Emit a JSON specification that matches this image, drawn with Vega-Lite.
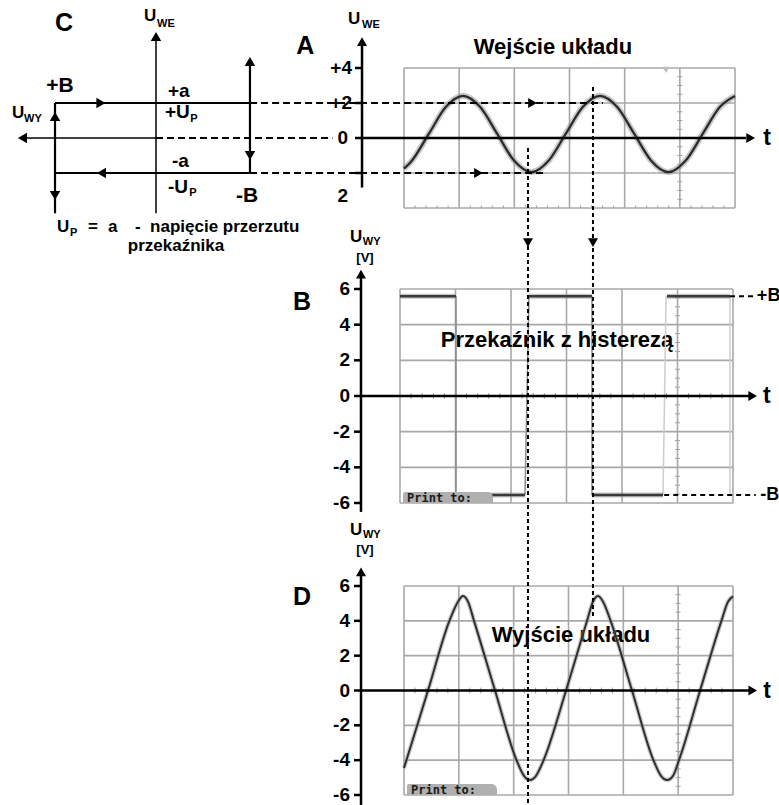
{
"$schema": "https://vega.github.io/schema/vega-lite/v6.json",
"width": 779, "height": 805, "autosize": "none", "padding": 0, "background": "white",
"config": {"view": {"stroke": null}, "text": {"font": "Liberation Sans", "fontWeight": "bold", "color": "black"}},
"datasets": {
"cAxis": [{"x":0,"y":-4.3,"x2":0,"y2":5.6},{"x":0,"y":0,"x2":7.3,"y2":0}],
"cDash": [{"x":0,"y":0,"x2":-9.8,"y2":0}],
"cLoop": [{"x":5.61,"y":2,"x2":-5.22,"y2":2},{"x":-5.22,"y":4.4,"x2":-5.22,"y2":-2},{"x":-5.22,"y":-2,"x2":5.61,"y2":-2},{"x":5.61,"y":2,"x2":5.61,"y2":-4.3}],
"cUp": [{"x":0,"y":5.8},{"x":-5.22,"y":4.37},{"x":5.61,"y":1.23}],
"cDown": [{"x":-5.22,"y":-1.0},{"x":5.61,"y":-3.29}],
"cLeft": [{"x":7.42,"y":0},{"x":3.03,"y":-2}],
"cRight": [{"x":3.06,"y":2}],
"cBig": [{"x":5.11,"y":6.57,"label":"C"}],
"cPM": [{"x":6.1,"y":2.63,"label":"+B"},{"x":-4.45,"y":-3.66,"label":"-B"}],
"cMid": [{"x":-0.667,"y":2.34,"label":"+a"},{"x":-0.889,"y":-1.657,"label":"-a"},{"x":-0.5,"y":1.14,"label":"+U"},{"x":-0.667,"y":-3.14,"label":"-U"}],
"cU": [{"x":0.667,"y":6.7,"label":"U"},{"x":8.0,"y":1.14,"label":"U"}],
"cSub": [{"x":-0.056,"y":6.34,"label":"WE"},{"x":7.33,"y":0.914,"label":"WY"},{"x":-1.9,"y":0.914,"label":"P"},{"x":-1.85,"y":-3.31,"label":"P"},{"x":4.78,"y":-5.6,"label":"P"}],
"cBottom": [{"x":5.5,"y":-5.37,"label":"U"},{"x":3.78,"y":-5.37,"label":"="},{"x":2.67,"y":-5.37,"label":"a"},{"x":1.17,"y":-5.37,"label":"-"},{"x":0.33,"y":-5.37,"label":"napięcie przerzutu"}],
"cBottom2": [{"x":-1.11,"y":-6.46,"label":"przekaźnika"}],
"grid4": [{"t":0,"u":-4,"t2":0,"u2":4},{"t":1,"u":-4,"t2":1,"u2":4},{"t":2,"u":-4,"t2":2,"u2":4},{"t":3,"u":-4,"t2":3,"u2":4},{"t":4,"u":-4,"t2":4,"u2":4},{"t":5,"u":-4,"t2":5,"u2":4},{"t":6,"u":-4,"t2":6,"u2":4},{"t":0,"u":-4,"t2":6,"u2":-4},{"t":0,"u":-2,"t2":6,"u2":-2},{"t":0,"u":2,"t2":6,"u2":2},{"t":0,"u":4,"t2":6,"u2":4}],
"grid6": [{"t":0,"u":-6,"t2":0,"u2":6},{"t":1,"u":-6,"t2":1,"u2":6},{"t":2,"u":-6,"t2":2,"u2":6},{"t":3,"u":-6,"t2":3,"u2":6},{"t":4,"u":-6,"t2":4,"u2":6},{"t":5,"u":-6,"t2":5,"u2":6},{"t":6,"u":-6,"t2":6,"u2":6},{"t":0,"u":-6,"t2":6,"u2":-6},{"t":0,"u":-4,"t2":6,"u2":-4},{"t":0,"u":-2,"t2":6,"u2":-2},{"t":0,"u":2,"t2":6,"u2":2},{"t":0,"u":4,"t2":6,"u2":4},{"t":0,"u":6,"t2":6,"u2":6}],
"minorT": [{"t":0.2,"lo":-0.17,"hi":0.17,"b1":-4,"b2":-3.85},{"t":0.4,"lo":-0.17,"hi":0.17,"b1":-4,"b2":-3.85},{"t":0.6,"lo":-0.17,"hi":0.17,"b1":-4,"b2":-3.85},{"t":0.8,"lo":-0.17,"hi":0.17,"b1":-4,"b2":-3.85},{"t":1.2,"lo":-0.17,"hi":0.17,"b1":-4,"b2":-3.85},{"t":1.4,"lo":-0.17,"hi":0.17,"b1":-4,"b2":-3.85},{"t":1.6,"lo":-0.17,"hi":0.17,"b1":-4,"b2":-3.85},{"t":1.8,"lo":-0.17,"hi":0.17,"b1":-4,"b2":-3.85},{"t":2.2,"lo":-0.17,"hi":0.17,"b1":-4,"b2":-3.85},{"t":2.4,"lo":-0.17,"hi":0.17,"b1":-4,"b2":-3.85},{"t":2.6,"lo":-0.17,"hi":0.17,"b1":-4,"b2":-3.85},{"t":2.8,"lo":-0.17,"hi":0.17,"b1":-4,"b2":-3.85},{"t":3.2,"lo":-0.17,"hi":0.17,"b1":-4,"b2":-3.85},{"t":3.4,"lo":-0.17,"hi":0.17,"b1":-4,"b2":-3.85},{"t":3.6,"lo":-0.17,"hi":0.17,"b1":-4,"b2":-3.85},{"t":3.8,"lo":-0.17,"hi":0.17,"b1":-4,"b2":-3.85},{"t":4.2,"lo":-0.17,"hi":0.17,"b1":-4,"b2":-3.85},{"t":4.4,"lo":-0.17,"hi":0.17,"b1":-4,"b2":-3.85},{"t":4.6,"lo":-0.17,"hi":0.17,"b1":-4,"b2":-3.85},{"t":4.8,"lo":-0.17,"hi":0.17,"b1":-4,"b2":-3.85},{"t":5.2,"lo":-0.17,"hi":0.17,"b1":-4,"b2":-3.85},{"t":5.4,"lo":-0.17,"hi":0.17,"b1":-4,"b2":-3.85},{"t":5.6,"lo":-0.17,"hi":0.17,"b1":-4,"b2":-3.85},{"t":5.8,"lo":-0.17,"hi":0.17,"b1":-4,"b2":-3.85}],
"minorU6": [{"u":-5.5,"t1":4.955,"t2":5.045},{"u":-5,"t1":4.955,"t2":5.045},{"u":-4.5,"t1":4.955,"t2":5.045},{"u":-3.5,"t1":4.955,"t2":5.045},{"u":-3,"t1":4.955,"t2":5.045},{"u":-2.5,"t1":4.955,"t2":5.045},{"u":-1.5,"t1":4.955,"t2":5.045},{"u":-1,"t1":4.955,"t2":5.045},{"u":-0.5,"t1":4.955,"t2":5.045},{"u":0.5,"t1":4.955,"t2":5.045},{"u":1,"t1":4.955,"t2":5.045},{"u":1.5,"t1":4.955,"t2":5.045},{"u":2.5,"t1":4.955,"t2":5.045},{"u":3,"t1":4.955,"t2":5.045},{"u":3.5,"t1":4.955,"t2":5.045},{"u":4.5,"t1":4.955,"t2":5.045},{"u":5,"t1":4.955,"t2":5.045},{"u":5.5,"t1":4.955,"t2":5.045}],
"minorU4": [{"u":-3.5,"t1":4.955,"t2":5.045},{"u":-3,"t1":4.955,"t2":5.045},{"u":-2.5,"t1":4.955,"t2":5.045},{"u":-1.5,"t1":4.955,"t2":5.045},{"u":-1,"t1":4.955,"t2":5.045},{"u":-0.5,"t1":4.955,"t2":5.045},{"u":0.5,"t1":4.955,"t2":5.045},{"u":1,"t1":4.955,"t2":5.045},{"u":1.5,"t1":4.955,"t2":5.045},{"u":2.5,"t1":4.955,"t2":5.045},{"u":3,"t1":4.955,"t2":5.045},{"u":3.5,"t1":4.955,"t2":5.045}],
"aWave": [{"t":0,"u":-1.75},{"t":0.127,"u":-1.36},{"t":0.449,"u":0.23},{"t":0.761,"u":1.78},{"t":1.069,"u":2.41},{"t":1.378,"u":1.78},{"t":1.686,"u":0.26},{"t":1.994,"u":-1.29},{"t":2.311,"u":-1.95},{"t":2.628,"u":-1.27},{"t":2.936,"u":0.26},{"t":3.244,"u":1.78},{"t":3.553,"u":2.41},{"t":3.861,"u":1.78},{"t":4.169,"u":0.26},{"t":4.477,"u":-1.28},{"t":4.794,"u":-1.95},{"t":5.111,"u":-1.27},{"t":5.419,"u":0.26},{"t":5.728,"u":1.78},{"t":6.0,"u":2.4}],
"aAxis": [{"t":-0.761,"u":-2.83,"t2":-0.761,"u2":5.4},{"t":-0.761,"u":0,"t2":6.2,"u2":0},{"t":-0.888,"u":4,"t2":-0.761,"u2":4},{"t":-0.888,"u":2,"t2":-0.761,"u2":2},{"t":-0.888,"u":0,"t2":-0.761,"u2":0},{"t":-0.888,"u":-2,"t2":-0.761,"u2":-2}],
"aUp": [{"t":-0.761,"u":5.51}],
"aRight": [{"t":6.284,"u":0}],
"aDashArrows": [{"t":2.33,"u":2},{"t":1.35,"u":-2}],
"aDash": [{"t":-2.79,"u":2,"t2":3.607,"u2":2},{"t":-2.79,"u":-2,"t2":2.556,"u2":-2}],
"aTrig": [{"t":4.75,"u":3.89}],
"aTickLab": [{"t":-0.943,"u":4,"label":"+4"},{"t":-0.943,"u":2,"label":"+2"},{"t":-1.015,"u":0,"label":"0"},{"t":-1.015,"u":-3.29,"label":"2"}],
"aBig": [{"t":-1.79,"u":5.26,"label":"A"}],
"aTitle": [{"t":2.7,"u":5.2,"label":"Wejście układu"}],
"aT": [{"t":6.58,"u":0,"label":"t"}],
"aU": [{"t":-1.015,"u":6.51,"label":"U"}],
"aSub": [{"t":-0.76,"u":6.31,"label":"WE"}],
"bLevels": [{"t":0,"u":5.6,"t2":1.009,"u2":5.6},{"t":2.324,"u":5.6,"t2":3.459,"u2":5.6},{"t":4.811,"u":5.6,"t2":5.946,"u2":5.6},{"t":1.009,"u":-5.55,"t2":2.252,"u2":-5.55},{"t":3.459,"u":-5.55,"t2":4.739,"u2":-5.55}],
"bEdgeDark": [{"t":1.009,"u":5.6,"t2":1.009,"u2":-5.55},{"t":2.252,"u":-5.55,"t2":2.324,"u2":5.6},{"t":3.459,"u":5.6,"t2":3.459,"u2":-5.55}],
"bEdgeLight": [{"t":4.739,"u":-5.55,"t2":4.795,"u2":5.6},{"t":5.946,"u":5.6,"t2":5.946,"u2":-5.5}],
"bLevelDash": [{"t":5.946,"u":5.6,"t2":6.41,"u2":5.6},{"t":4.76,"u":-5.55,"t2":6.41,"u2":-5.55}],
"bVert": [{"t":2.306,"u":13.9,"t2":2.306,"u2":-22.94},{"t":3.477,"u":17.33,"t2":3.477,"u2":-12.39}],
"bDown": [{"t":2.306,"u":8.6},{"t":3.477,"u":8.6}],
"bAxis": [{"t":-0.703,"u":-6.5,"t2":-0.703,"u2":6.7},{"t":-0.703,"u":0,"t2":6.3,"u2":0},{"t":-0.829,"u":6,"t2":-0.703,"u2":6},{"t":-0.829,"u":4,"t2":-0.703,"u2":4},{"t":-0.829,"u":2,"t2":-0.703,"u2":2},{"t":-0.829,"u":0,"t2":-0.703,"u2":0},{"t":-0.829,"u":-2,"t2":-0.703,"u2":-2},{"t":-0.829,"u":-4,"t2":-0.703,"u2":-4},{"t":-0.829,"u":-6,"t2":-0.703,"u2":-6}],
"bUp": [{"t":-0.703,"u":6.83}],
"bRight": [{"t":6.355,"u":0}],
"bTickLab": [{"t":-0.901,"u":6,"label":"6"},{"t":-0.901,"u":4,"label":"4"},{"t":-0.901,"u":2,"label":"2"},{"t":-0.901,"u":0,"label":"0"},{"t":-0.901,"u":-2,"label":"-2"},{"t":-0.901,"u":-4,"label":"-4"},{"t":-0.901,"u":-6,"label":"-6"}],
"bBig": [{"t":-1.766,"u":5.27,"label":"B"}],
"bTitle": [{"t":2.829,"u":3.14,"label":"Przekaźnik z histerezą"}],
"bT": [{"t":6.61,"u":0,"label":"t"}],
"bU": [{"t":-0.901,"u":8.64,"label":"U"}],
"bSub": [{"t":-0.67,"u":8.44,"label":"WY"}],
"bV": [{"t":-0.631,"u":7.52,"label":"[V]"}],
"bPM": [{"t":6.43,"u":5.6,"label":"+B"},{"t":6.49,"u":-5.55,"label":"-B"}],
"bPrint": [{"t":0.054,"u":-5.38,"t2":1.676,"u2":-6.0,"label":"Print to:","tl":0.126,"ul":-5.97}],
"dWave": [{"t":0,"u":-4.45},{"t":0.438,"u":0},{"t":0.828,"u":4.0},{"t":0.985,"u":5.1},{"t":1.076,"u":5.42},{"t":1.167,"u":5.1},{"t":1.277,"u":4.0},{"t":1.66,"u":0},{"t":2.052,"u":-4.0},{"t":2.189,"u":-4.9},{"t":2.298,"u":-5.14},{"t":2.407,"u":-4.9},{"t":2.546,"u":-4.0},{"t":2.955,"u":0},{"t":3.338,"u":4.0},{"t":3.447,"u":5.1},{"t":3.538,"u":5.42},{"t":3.63,"u":5.1},{"t":3.768,"u":4.0},{"t":4.158,"u":0},{"t":4.549,"u":-4.0},{"t":4.687,"u":-4.9},{"t":4.797,"u":-5.14},{"t":4.906,"u":-4.9},{"t":5.015,"u":-4.0},{"t":5.4,"u":0},{"t":5.789,"u":4.0},{"t":5.909,"u":5.1},{"t":6.0,"u":5.4}],
"dAxis": [{"t":-0.784,"u":-6.57,"t2":-0.784,"u2":6.65},{"t":-0.784,"u":0,"t2":6.3,"u2":0},{"t":-0.912,"u":6,"t2":-0.784,"u2":6},{"t":-0.912,"u":4,"t2":-0.784,"u2":4},{"t":-0.912,"u":2,"t2":-0.784,"u2":2},{"t":-0.912,"u":0,"t2":-0.784,"u2":0},{"t":-0.912,"u":-2,"t2":-0.784,"u2":-2},{"t":-0.912,"u":-4,"t2":-0.784,"u2":-4},{"t":-0.912,"u":-6,"t2":-0.784,"u2":-6}],
"dUp": [{"t":-0.784,"u":6.81}],
"dRight": [{"t":6.36,"u":0}],
"dTickLab": [{"t":-0.985,"u":6,"label":"6"},{"t":-0.985,"u":4,"label":"4"},{"t":-0.985,"u":2,"label":"2"},{"t":-0.985,"u":0,"label":"0"},{"t":-0.985,"u":-2,"label":"-2"},{"t":-0.985,"u":-4,"label":"-4"},{"t":-0.985,"u":-6,"label":"-6"}],
"dBig": [{"t":-1.86,"u":5.37,"label":"D"}],
"dTitle": [{"t":3.046,"u":3.19,"label":"Wyjście układu"}],
"dT": [{"t":6.62,"u":0,"label":"t"}],
"dU": [{"t":-0.985,"u":8.93,"label":"U"}],
"dSub": [{"t":-0.75,"u":8.73,"label":"WY"}],
"dV": [{"t":-0.711,"u":7.84,"label":"[V]"}],
"dPrint": [{"t":0.055,"u":-5.37,"t2":1.696,"u2":-6.0,"label":"Print to:","tl":0.128,"ul":-5.95}]
},
"layer": [
{
"encoding": {
"x": {"field":"x","type":"quantitative","scale":{"domain":[-6,6],"range":[264,48],"nice":false,"zero":false},"axis":null},
"y": {"field":"y","type":"quantitative","scale":{"domain":[-4,4],"range":[208,68],"nice":false,"zero":false},"axis":null}
},
"layer": [
{"data":{"name":"cDash"},"mark":{"type":"rule","color":"black","strokeWidth":2,"strokeDash":[7,4]},"encoding":{"x2":{"field":"x2"},"y2":{"field":"y2"}}},
{"data":{"name":"cAxis"},"mark":{"type":"rule","color":"black","strokeWidth":1.5},"encoding":{"x2":{"field":"x2"},"y2":{"field":"y2"}}},
{"data":{"name":"cLoop"},"mark":{"type":"rule","color":"black","strokeWidth":2.2},"encoding":{"x2":{"field":"x2"},"y2":{"field":"y2"}}},
{"data":{"name":"cUp"},"mark":{"type":"point","shape":"triangle-up","filled":true,"size":110,"color":"black","opacity":1}},
{"data":{"name":"cDown"},"mark":{"type":"point","shape":"triangle-down","filled":true,"size":110,"color":"black","opacity":1}},
{"data":{"name":"cLeft"},"mark":{"type":"point","shape":"triangle-left","filled":true,"size":110,"color":"black","opacity":1}},
{"data":{"name":"cRight"},"mark":{"type":"point","shape":"triangle-right","filled":true,"size":110,"color":"black","opacity":1}},
{"data":{"name":"cBig"},"mark":{"type":"text","fontSize":25,"align":"center","baseline":"middle"},"encoding":{"text":{"field":"label"}}},
{"data":{"name":"cPM"},"mark":{"type":"text","fontSize":21,"align":"left","baseline":"alphabetic"},"encoding":{"text":{"field":"label"}}},
{"data":{"name":"cMid"},"mark":{"type":"text","fontSize":19,"align":"left","baseline":"alphabetic"},"encoding":{"text":{"field":"label"}}},
{"data":{"name":"cU"},"mark":{"type":"text","fontSize":17,"align":"left","baseline":"alphabetic"},"encoding":{"text":{"field":"label"}}},
{"data":{"name":"cSub"},"mark":{"type":"text","fontSize":11,"align":"left","baseline":"alphabetic"},"encoding":{"text":{"field":"label"}}},
{"data":{"name":"cBottom"},"mark":{"type":"text","fontSize":17,"align":"left","baseline":"alphabetic"},"encoding":{"text":{"field":"label"}}},
{"data":{"name":"cBottom2"},"mark":{"type":"text","fontSize":17,"align":"center","baseline":"alphabetic"},"encoding":{"text":{"field":"label"}}}
]
},
{
"encoding": {
"x": {"field":"t","type":"quantitative","scale":{"domain":[0,6],"range":[404,735],"nice":false,"zero":false},"axis":null},
"y": {"field":"u","type":"quantitative","scale":{"domain":[-4,4],"range":[208,68],"nice":false,"zero":false},"axis":null}
},
"layer": [
{"data":{"name":"grid4"},"mark":{"type":"rule","color":"#a8a8a8","strokeWidth":1.6},"encoding":{"x2":{"field":"t2"},"y2":{"field":"u2"}}},
{"data":{"name":"minorT"},"mark":{"type":"rule","color":"#a0a0a0","strokeWidth":1},"encoding":{"y":{"field":"b1","type":"quantitative"},"y2":{"field":"b2"}}},
{"data":{"name":"minorU4"},"mark":{"type":"rule","color":"#a0a0a0","strokeWidth":1},"encoding":{"x":{"field":"t1","type":"quantitative"},"x2":{"field":"t2"}}},
{"data":{"name":"aTrig"},"mark":{"type":"point","shape":"triangle-down","filled":true,"size":50,"color":"#bdbdbd","opacity":1}},
{"data":{"name":"aWave"},"mark":{"type":"line","color":"#9a9a9a","strokeWidth":6,"opacity":0.55,"interpolate":"monotone"}},
{"data":{"name":"aWave"},"mark":{"type":"line","color":"#2b2b2b","strokeWidth":2.3,"interpolate":"monotone"}},
{"data":{"name":"aAxis"},"mark":{"type":"rule","color":"black","strokeWidth":2.5},"encoding":{"x2":{"field":"t2"},"y2":{"field":"u2"}}},
{"data":{"name":"aUp"},"mark":{"type":"point","shape":"triangle-up","filled":true,"size":100,"color":"black","opacity":1}},
{"data":{"name":"aRight"},"mark":{"type":"point","shape":"triangle-right","filled":true,"size":100,"color":"black","opacity":1}},
{"data":{"name":"aTickLab"},"mark":{"type":"text","fontSize":19,"align":"right","baseline":"middle"},"encoding":{"text":{"field":"label"}}},
{"data":{"name":"aDash"},"mark":{"type":"rule","color":"black","strokeWidth":2,"strokeDash":[7,4]},"encoding":{"x2":{"field":"t2"},"y2":{"field":"u2"}}},
{"data":{"name":"aDashArrows"},"mark":{"type":"point","shape":"triangle-right","filled":true,"size":100,"color":"black","opacity":1}},
{"data":{"name":"aBig"},"mark":{"type":"text","fontSize":25,"align":"center","baseline":"middle"},"encoding":{"text":{"field":"label"}}},
{"data":{"name":"aTitle"},"mark":{"type":"text","fontSize":22,"align":"center","baseline":"middle"},"encoding":{"text":{"field":"label"}}},
{"data":{"name":"aT"},"mark":{"type":"text","fontSize":23,"align":"center","baseline":"middle"},"encoding":{"text":{"field":"label"}}},
{"data":{"name":"aU"},"mark":{"type":"text","fontSize":17,"align":"left","baseline":"alphabetic"},"encoding":{"text":{"field":"label"}}},
{"data":{"name":"aSub"},"mark":{"type":"text","fontSize":11,"align":"left","baseline":"alphabetic"},"encoding":{"text":{"field":"label"}}}
]
},
{
"encoding": {
"x": {"field":"t","type":"quantitative","scale":{"domain":[0,6],"range":[404,733],"nice":false,"zero":false},"axis":null},
"y": {"field":"u","type":"quantitative","scale":{"domain":[-6,6],"range":[795,586],"nice":false,"zero":false},"axis":null}
},
"layer": [
{"data":{"name":"grid6"},"mark":{"type":"rule","color":"#a8a8a8","strokeWidth":1.6},"encoding":{"x2":{"field":"t2"},"y2":{"field":"u2"}}},
{"data":{"name":"minorT"},"mark":{"type":"rule","color":"#a0a0a0","strokeWidth":1},"encoding":{"y":{"field":"lo","type":"quantitative"},"y2":{"field":"hi"}}},
{"data":{"name":"minorU6"},"mark":{"type":"rule","color":"#a0a0a0","strokeWidth":1},"encoding":{"x":{"field":"t1","type":"quantitative"},"x2":{"field":"t2"}}},
{"data":{"name":"dTitle"},"mark":{"type":"text","fontSize":22,"align":"center","baseline":"middle"},"encoding":{"text":{"field":"label"}}},
{"data":{"name":"dWave"},"mark":{"type":"line","color":"#9a9a9a","strokeWidth":4.5,"opacity":0.5,"interpolate":"monotone"}},
{"data":{"name":"dWave"},"mark":{"type":"line","color":"#303030","strokeWidth":2,"interpolate":"monotone"}},
{"data":{"name":"dPrint"},"mark":{"type":"rect","color":"#b0b0b0","cornerRadiusTopRight":6,"cornerRadiusTopLeft":2},"encoding":{"x2":{"field":"t2"},"y2":{"field":"u2"}}},
{"data":{"name":"dPrint"},"mark":{"type":"text","font":"DejaVu Sans Mono","fontSize":12,"align":"left","baseline":"alphabetic","color":"#1a1a1a"},"encoding":{"x":{"field":"tl","type":"quantitative"},"y":{"field":"ul","type":"quantitative"},"text":{"field":"label"}}},
{"data":{"name":"dAxis"},"mark":{"type":"rule","color":"black","strokeWidth":2.5},"encoding":{"x2":{"field":"t2"},"y2":{"field":"u2"}}},
{"data":{"name":"dUp"},"mark":{"type":"point","shape":"triangle-up","filled":true,"size":100,"color":"black","opacity":1}},
{"data":{"name":"dRight"},"mark":{"type":"point","shape":"triangle-right","filled":true,"size":100,"color":"black","opacity":1}},
{"data":{"name":"dTickLab"},"mark":{"type":"text","fontSize":19,"align":"right","baseline":"middle"},"encoding":{"text":{"field":"label"}}},
{"data":{"name":"dBig"},"mark":{"type":"text","fontSize":25,"align":"center","baseline":"middle"},"encoding":{"text":{"field":"label"}}},
{"data":{"name":"dT"},"mark":{"type":"text","fontSize":23,"align":"center","baseline":"middle"},"encoding":{"text":{"field":"label"}}},
{"data":{"name":"dU"},"mark":{"type":"text","fontSize":17,"align":"left","baseline":"alphabetic"},"encoding":{"text":{"field":"label"}}},
{"data":{"name":"dSub"},"mark":{"type":"text","fontSize":11,"align":"left","baseline":"alphabetic"},"encoding":{"text":{"field":"label"}}},
{"data":{"name":"dV"},"mark":{"type":"text","fontSize":13,"align":"center","baseline":"alphabetic"},"encoding":{"text":{"field":"label"}}}
]
},
{
"encoding": {
"x": {"field":"t","type":"quantitative","scale":{"domain":[0,6],"range":[400,733],"nice":false,"zero":false},"axis":null},
"y": {"field":"u","type":"quantitative","scale":{"domain":[-6,6],"range":[503,289],"nice":false,"zero":false},"axis":null}
},
"layer": [
{"data":{"name":"grid6"},"mark":{"type":"rule","color":"#a8a8a8","strokeWidth":1.6},"encoding":{"x2":{"field":"t2"},"y2":{"field":"u2"}}},
{"data":{"name":"minorT"},"mark":{"type":"rule","color":"#a0a0a0","strokeWidth":1},"encoding":{"y":{"field":"lo","type":"quantitative"},"y2":{"field":"hi"}}},
{"data":{"name":"minorU6"},"mark":{"type":"rule","color":"#a0a0a0","strokeWidth":1},"encoding":{"x":{"field":"t1","type":"quantitative"},"x2":{"field":"t2"}}},
{"data":{"name":"bTitle"},"mark":{"type":"text","fontSize":22,"align":"center","baseline":"middle"},"encoding":{"text":{"field":"label"}}},
{"data":{"name":"bEdgeDark"},"mark":{"type":"rule","color":"#8a8a8a","strokeWidth":1.5},"encoding":{"x2":{"field":"t2"},"y2":{"field":"u2"}}},
{"data":{"name":"bEdgeLight"},"mark":{"type":"rule","color":"#cdcdcd","strokeWidth":1.5},"encoding":{"x2":{"field":"t2"},"y2":{"field":"u2"}}},
{"data":{"name":"bLevels"},"mark":{"type":"rule","color":"#a0a0a0","strokeWidth":5,"opacity":0.6},"encoding":{"x2":{"field":"t2"},"y2":{"field":"u2"}}},
{"data":{"name":"bLevels"},"mark":{"type":"rule","color":"#3a3a3a","strokeWidth":2.5},"encoding":{"x2":{"field":"t2"},"y2":{"field":"u2"}}},
{"data":{"name":"bPrint"},"mark":{"type":"rect","color":"#b0b0b0","cornerRadiusTopRight":6,"cornerRadiusTopLeft":2},"encoding":{"x2":{"field":"t2"},"y2":{"field":"u2"}}},
{"data":{"name":"bPrint"},"mark":{"type":"text","font":"DejaVu Sans Mono","fontSize":12,"align":"left","baseline":"alphabetic","color":"#1a1a1a"},"encoding":{"x":{"field":"tl","type":"quantitative"},"y":{"field":"ul","type":"quantitative"},"text":{"field":"label"}}},
{"data":{"name":"bAxis"},"mark":{"type":"rule","color":"black","strokeWidth":2.5},"encoding":{"x2":{"field":"t2"},"y2":{"field":"u2"}}},
{"data":{"name":"bUp"},"mark":{"type":"point","shape":"triangle-up","filled":true,"size":100,"color":"black","opacity":1}},
{"data":{"name":"bRight"},"mark":{"type":"point","shape":"triangle-right","filled":true,"size":100,"color":"black","opacity":1}},
{"data":{"name":"bTickLab"},"mark":{"type":"text","fontSize":19,"align":"right","baseline":"middle"},"encoding":{"text":{"field":"label"}}},
{"data":{"name":"bLevelDash"},"mark":{"type":"rule","color":"black","strokeWidth":2,"strokeDash":[5,4]},"encoding":{"x2":{"field":"t2"},"y2":{"field":"u2"}}},
{"data":{"name":"bVert"},"mark":{"type":"rule","color":"black","strokeWidth":2,"strokeDash":[4,3]},"encoding":{"x2":{"field":"t2"},"y2":{"field":"u2"}}},
{"data":{"name":"bDown"},"mark":{"type":"point","shape":"triangle-down","filled":true,"size":100,"color":"black","opacity":1}},
{"data":{"name":"bBig"},"mark":{"type":"text","fontSize":25,"align":"center","baseline":"middle"},"encoding":{"text":{"field":"label"}}},
{"data":{"name":"bT"},"mark":{"type":"text","fontSize":23,"align":"center","baseline":"middle"},"encoding":{"text":{"field":"label"}}},
{"data":{"name":"bU"},"mark":{"type":"text","fontSize":17,"align":"left","baseline":"alphabetic"},"encoding":{"text":{"field":"label"}}},
{"data":{"name":"bSub"},"mark":{"type":"text","fontSize":11,"align":"left","baseline":"alphabetic"},"encoding":{"text":{"field":"label"}}},
{"data":{"name":"bV"},"mark":{"type":"text","fontSize":13,"align":"center","baseline":"alphabetic"},"encoding":{"text":{"field":"label"}}},
{"data":{"name":"bPM"},"mark":{"type":"text","fontSize":18,"align":"left","baseline":"middle"},"encoding":{"text":{"field":"label"}}}
]
}
],
"resolve": {"scale": {"x": "independent", "y": "independent"}}
}
